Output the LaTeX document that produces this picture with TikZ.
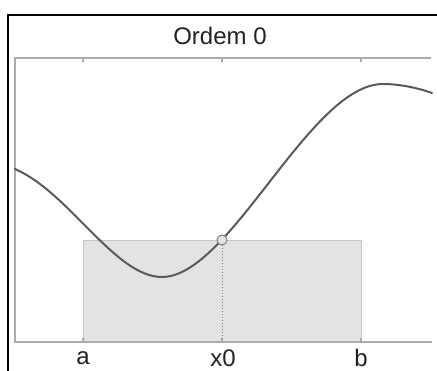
\documentclass[tikz,border=0pt]{standalone}
\usepackage{fontspec}
\setmainfont{Liberation Sans}
\definecolor{axisgray}{HTML}{ABABAB}
\definecolor{curvegray}{HTML}{5A5A5A}
\definecolor{rectfill}{HTML}{E2E3E5}
\definecolor{rectline}{HTML}{C4C4C4}
\definecolor{txt}{HTML}{222222}
\tikzset{
  axisline/.style={draw=axisgray, line width=2pt},
  lbl/.style={text=txt, font=\fontsize{24}{27}\selectfont, inner sep=0pt},
  curveline/.style={draw=curvegray, line width=2pt, line cap=round},
  frameline/.style={draw=black, line width=2.2pt},
}
\begin{document}
\begin{tikzpicture}[x=1pt,y=-1pt]
\useasboundingbox (0,0) rectangle (437,371);
\fill[white] (0,0) rectangle (437,371);
% outer frame
\draw[frameline] (8,371) -- (8,15) -- (437,15);
% rectangle
\node[draw=rectline, fill=rectfill, line width=1pt, minimum width=278pt, minimum height=102pt, inner sep=0pt, anchor=north west] (box) at (83,240) {};
% axes
\draw[axisline] (431,58) -- (15,58) -- (15,342) -- (432,342);
\foreach \tx in {83,222,361} {
  \draw[draw=axisgray, line width=1.2pt] (\tx,58) -- (\tx,62);
  \draw[draw=axisgray, line width=1.2pt] (\tx,342) -- (\tx,338);
}
% curve
\draw[curveline] (15,169) .. controls (70,193) and (115,277) .. (162,277)
  .. controls (230,277) and (310,84) .. (383,84)
  .. controls (400,84) and (418,88) .. (432,93);
% point and dotted line
\node[circle, draw=gray, fill=rectfill, line width=1pt, minimum size=10pt, inner sep=0pt] (p) at (222,240) {};
\coordinate (foot) at (222,341);
\draw[draw=gray, line width=1pt, dotted] (p.south) -- (foot);
% texts
\node[lbl] (title) at (220,36) {Ordem 0};
\node[lbl] (la) at (83,358) {a};
\node[lbl] (lx) at (223,358) {x0};
\node[lbl] (lb) at (361,358) {b};
\end{tikzpicture}
\end{document}
